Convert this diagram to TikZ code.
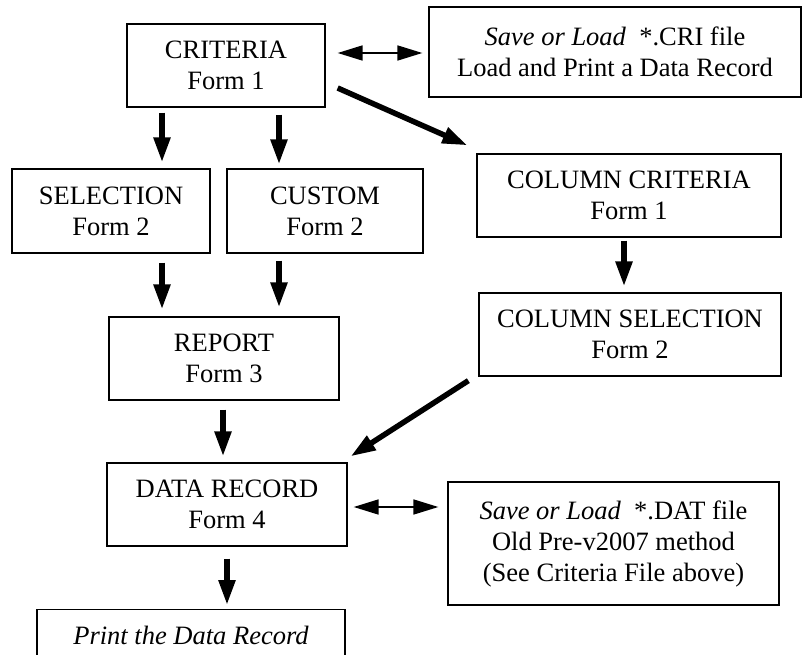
\documentclass[tikz,border=0pt]{standalone}
\usepackage{fontspec}
\setmainfont{Liberation Serif}
\usetikzlibrary{arrows.meta}

\begin{document}
\begin{tikzpicture}[x=1pt,y=1pt]
	\tikzset{
		block/.style={draw, line width=1.3pt, minimum height=83pt, inner sep=0pt, align=center, font=\fontsize{26.5}{31}\selectfont},
		bigarrow/.style={line width=5.5pt, -{Triangle[length=25pt,width=16pt]}},
		swap/.style={line width=1.7pt, {Triangle[length=25pt,width=15pt]}-{Triangle[length=25pt,width=15pt]}}
	}
	\useasboundingbox (0,0) rectangle (803,-655);
	% boxes
	\node [block, minimum width=198pt] (crit) at (226,-65.5) {CRITERIA\\Form 1};
	\node [block, minimum width=372pt, minimum height=90pt] (crifile) at (615,-52) {\textit{Save or Load}\ \ *.CRI file\\Load and Print a Data Record};
	\node [block, minimum width=198pt, minimum height=84pt] (sel) at (111,-211) {SELECTION\\Form 2};
	\node [block, minimum width=196pt, minimum height=84pt] (cust) at (325,-211) {CUSTOM\\Form 2};
	\node [block, minimum width=304pt] (colcrit) at (629,-195.5) {COLUMN CRITERIA\\Form 1};
	\node [block, minimum width=302pt] (colsel) at (630,-334.5) {COLUMN SELECTION\\Form 2};
	\node [block, minimum width=230pt] (report) at (224,-358.5) {REPORT\\Form 3};
	\node [block, minimum width=240pt] (data) at (227,-504.5) {DATA RECORD\\Form 4};
	\node [block, minimum width=331pt, minimum height=123pt] (datfile) at (613.5,-543.5) {\textit{Save or Load}\ \ *.DAT file\\Old Pre-v2007 method\\(See Criteria File above)};
	\node [block, minimum width=308pt, anchor=north] (print) at (191,-609) {\textit{Print the Data Record}\\\mbox{}};
	% arrows
	\draw [bigarrow, shorten <=5pt, shorten >=6pt] (162,0 |- crit.south) -- (162,0 |- sel.north);
	\draw [bigarrow, shorten <=7pt, shorten >=4pt] (279,0 |- crit.south) -- (279,0 |- cust.north);
	\draw [bigarrow, shorten <=9pt, shorten >=7pt] (162,0 |- sel.south) -- (162,0 |- report.north);
	\draw [bigarrow, shorten <=7pt, shorten >=9pt] (279,0 |- cust.south) -- (279,0 |- report.north);
	\draw [bigarrow, shorten <=9pt, shorten >=6pt] (223,0 |- report.south) -- (223,0 |- data.north);
	\draw [bigarrow, shorten <=12pt, shorten >=4pt] (227,0 |- data.south) -- (227,0 |- print.north);
	\draw [bigarrow, shorten <=3pt, shorten >=6pt] (624,0 |- colcrit.south) -- (624,0 |- colsel.north);
	\draw [bigarrow] ([shift={(12,-22.5)}]crit.east) -- ([shift={(-9,8)}]colcrit.north west);
	\draw [bigarrow] ([shift={(-10,-4)}]colsel.south west) -- ([shift={(3,6)}]data.north east);
	\draw [swap, shorten <=12pt, shorten >=6pt] (crit.east |- 0,-53) -- (crifile.west |- 0,-53);
	\draw [swap, shorten <=6pt, shorten >=9pt] (data.east |- 0,-507) -- (datfile.west |- 0,-507);
\end{tikzpicture}
\end{document}
